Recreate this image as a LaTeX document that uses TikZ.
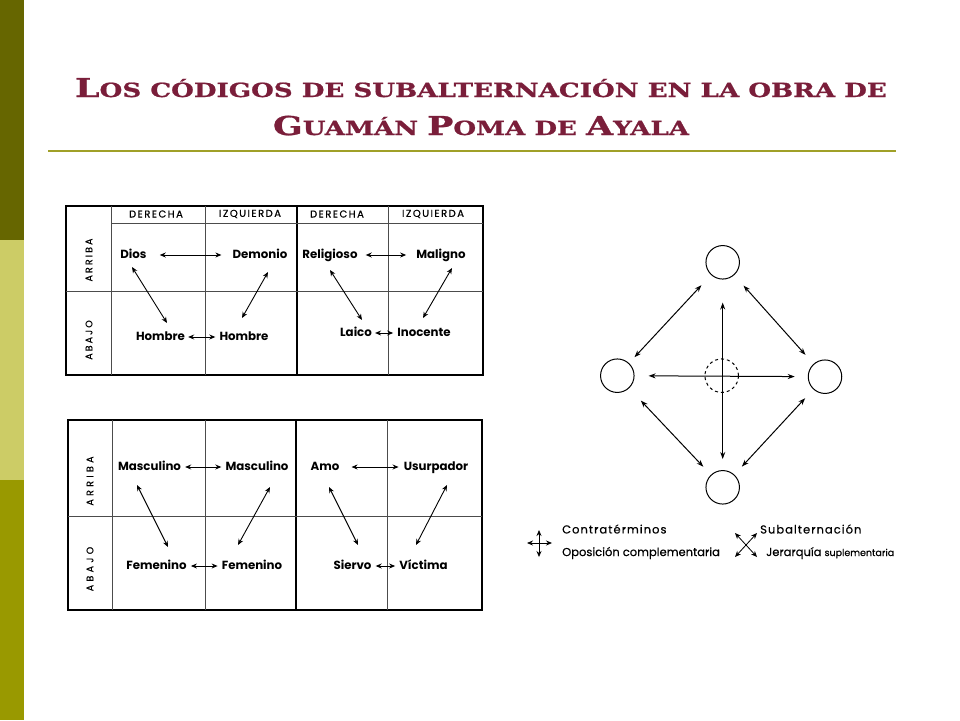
\documentclass[tikz,border=0pt]{standalone}
\usepackage{fontspec}
\usetikzlibrary{arrows.meta,calc}
\setmainfont{Poppins}
\newfontfamily\titlefont[FakeStretch=1.34,FakeBold=1]{DejaVu Serif}
\newfontfamily\hdrfont[LetterSpace=15,FakeBold=0.6]{Poppins}
\newfontfamily\sidefont[LetterSpace=22,FakeBold=0.6]{Poppins}
\newfontfamily\legendfont[FakeBold=0.5]{Poppins}
\definecolor{titlered}{RGB}{122,30,58}
\definecolor{barA}{RGB}{102,102,0}
\definecolor{barB}{RGB}{204,204,102}
\definecolor{barC}{RGB}{153,153,0}
\definecolor{ruleolive}{RGB}{160,160,40}
\newcommand\initcap[1]{{\fontsize{26}{26}\selectfont #1}}
\tikzset{
  word/.style={font=\bfseries\fontsize{11.8}{13}\selectfont, inner sep=0pt, text height=8.5pt, text depth=2.5pt},
  hdr/.style={font=\hdrfont\fontsize{10}{11}\selectfont},
  side/.style={font=\sidefont\fontsize{9.5}{11}\selectfont, rotate=90},
  legend/.style={font=\legendfont\fontsize{11.5}{13}\selectfont, anchor=west, inner sep=0pt},
  dual/.style={{Stealth[length=6pt,width=5pt]}-{Stealth[length=6pt,width=5pt]}, line width=0.9pt},
  bigdual/.style={{Stealth[length=7pt,width=5pt]}-{Stealth[length=7pt,width=5pt]}, line width=1pt},
  frame/.style={line width=1.6pt},
  cell/.style={line width=0.6pt, black!70},
  spot/.style={circle, draw, line width=1pt, minimum size=33.5pt, inner sep=0pt},
}
\begin{document}
\begin{tikzpicture}[x=1pt,y=-1pt]
\useasboundingbox (0,0) rectangle (960,720);

% Side bar and title
\fill[barA] (0,0) rectangle (24,240);
\fill[barB] (0,240) rectangle (24,480);
\fill[barC] (0,480) rectangle (24,720);
\node[anchor=base, text=titlered, font=\titlefont\bfseries\fontsize{19.5}{20}\selectfont] (titleA) at (481,97) {\initcap{L}OS CÓDIGOS DE SUBALTERNACIÓN EN LA OBRA DE};
\node[anchor=base, text=titlered, font=\titlefont\bfseries\fontsize{19.5}{20}\selectfont] (titleB) at (481,135) {\initcap{G}UAMÁN \initcap{P}OMA DE \initcap{A}YALA};
\draw[ruleolive, line width=1.6pt] (48,151) -- (896,151);

% Upper table: grid
\draw[frame] (66,206) rectangle (483,375);
\draw[cell] (111,206) -- (111,375);
\draw[cell] (205,206) -- (205,375);
\draw[frame, line width=1.3pt] (297,206) -- (297,375);
\draw[cell] (388,206) -- (388,375);
\draw[cell] (111,223) -- (483,223);
\draw[cell] (66,291) -- (483,291);
\node[hdr] (derA) at (156,214) {DERECHA};
\node[hdr] (izqA) at (250,214) {IZQUIERDA};
\node[hdr] (derB) at (337,214) {DERECHA};
\node[hdr] (izqB) at (433,214) {IZQUIERDA};
\node[side] (arrA) at (89,260) {ARRIBA};
\node[side] (abaA) at (89,340) {ABAJO};

% Upper table: words
\node[word] (dios) at (133.5,255) {Dios};
\node[word] (demonio) at (260,255) {Demonio};
\node[word] (religioso) at (330,255) {Religioso};
\node[word] (maligno) at (441,255) {Maligno};
\node[word] (hombreA) at (160.5,337) {Hombre};
\node[word] (hombreB) at (244,337) {Hombre};
\node[word] (laico) at (356,333) {Laico};
\node[word] (inocente) at (424,333) {Inocente};

\draw[dual, shorten <=13pt, shorten >=11pt] (dios.east) -- (demonio.west);
\draw[dual, shorten <=8pt, shorten >=10pt] (religioso.east) -- (maligno.west);
\draw[dual, shorten <=3pt, shorten >=4pt] (hombreA.east) -- (hombreB.west);
\draw[dual, shorten <=3pt, shorten >=4pt] (laico.east) -- (inocente.west);
\draw[dual] ($(dios)+(-1.5,12)$) -- ($(hombreA)+(6.5,-14)$);
\draw[dual] ($(demonio)+(8,17)$) -- ($(hombreB)+(-2,-19)$);
\draw[dual] ($(religioso)+(0,15)$) -- ($(laico)+(6,-13)$);
\draw[dual] ($(maligno)+(11,13)$) -- ($(inocente)+(-1,-15)$);

% Lower table: grid
\draw[frame] (68,420) rectangle (482,610);
\draw[cell] (112,420) -- (112,610);
\draw[cell] (205,420) -- (205,610);
\draw[frame, line width=1.3pt] (296,420) -- (296,610);
\draw[cell] (387,420) -- (387,610);
\draw[cell] (68,516) -- (482,516);
\node[side] (arrB) at (90,481) {\addfontfeatures{LetterSpace=35}ARRIBA};
\node[side] (abaB) at (90,569) {\addfontfeatures{LetterSpace=35}ABAJO};

% Lower table: words
\node[word] (mascA) at (149.5,467) {Masculino};
\node[word] (mascB) at (257,467) {Masculino};
\node[word] (amo) at (325,467) {Amo};
\node[word] (usurpador) at (436,467) {Usurpador};
\node[word] (femA) at (156.5,566) {Femenino};
\node[word] (femB) at (252,566) {Femenino};
\node[word] (siervo) at (352.5,566) {Siervo};
\node[word] (victima) at (423.5,566) {Víctima};

\draw[dual, shorten <=4pt, shorten >=4pt] (mascA.east) -- (mascB.west);
\draw[dual, shorten <=12pt, shorten >=5pt] (amo.east) -- (usurpador.west);
\draw[dual, shorten <=4pt, shorten >=4pt] (femA.east) -- (femB.west);
\draw[dual, shorten <=4pt, shorten >=4pt] (siervo.east) -- (victima.west);
\draw[dual] ($(mascA)+(-12.5,18)$) -- ($(femA)+(11.5,-19)$);
\draw[dual] ($(mascB)+(13,20)$) -- ($(femB)+(-14,-21)$);
\draw[dual] ($(amo)+(4,20)$) -- ($(siervo)+(5.5,-21)$);
\draw[dual] ($(usurpador)+(11,18)$) -- ($(victima)+(-7.5,-21)$);

% Diamond of positions
\node[spot] (top) at (722.7,262.3) {};
\node[spot] (left) at (617.3,375.7) {};
\node[spot] (right) at (825,376.7) {};
\node[spot] (bottom) at (722.7,487.3) {};
\node[spot, dashed] (mid) at (721.7,375.7) {};
\draw[bigdual, shorten <=14pt, shorten >=8pt] (top) -- (left);
\draw[bigdual, shorten <=14pt, shorten >=12pt] (top) -- (right);
\draw[bigdual, shorten <=17pt, shorten >=11pt] (left) -- (bottom);
\draw[bigdual, shorten <=12pt, shorten >=11pt] (right) -- (bottom);
\draw[bigdual, shorten <=23pt, shorten >=11pt] (top) -- (bottom);
\draw[bigdual, shorten <=14pt, shorten >=13pt] (left) -- (right);

% Legend
\coordinate (cross) at (539,543);
\coordinate (saltire) at (746,545);
\draw[dual, line width=0.8pt] ($(cross)+(0,-13)$) -- ($(cross)+(0,14)$);
\draw[dual, line width=0.8pt] ($(cross)+(-12,0)$) -- ($(cross)+(13,0)$);
\draw[dual, line width=0.8pt] ($(saltire)+(-11,-12)$) -- ($(saltire)+(11,12)$);
\draw[dual, line width=0.8pt] ($(saltire)+(-11,12)$) -- ($(saltire)+(11,-12)$);
\node[legend] (contra) at (562,529) {\addfontfeatures{LetterSpace=9}Contratérminos};
\node[legend] (oposic) at (562,553) {Oposición complementaria};
\node[legend] (subalt) at (760,529) {\addfontfeatures{LetterSpace=9}Subalternación};
\node[legend] (jerarq) at (766,553) {Jerarquía {\fontsize{9.5}{11}\selectfont suplementaria}};
\end{tikzpicture}
\end{document}
